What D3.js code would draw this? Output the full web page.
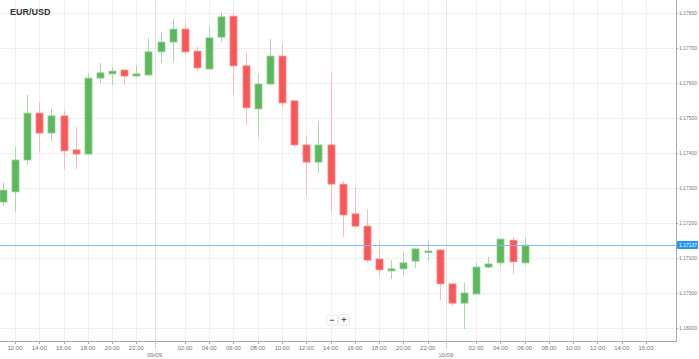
<!DOCTYPE html>
<html><head><meta charset="utf-8">
<script src="https://cdn.jsdelivr.net/npm/d3@7"></script>
<style>body{margin:0;background:#fff}svg{display:block}text{font-family:"Liberation Sans",Arial,sans-serif}</style>
</head><body><svg id="c" width="699" height="359"></svg>
<script>
const title = "EUR/USD";
// hours since 08/09 00:00
const hours = [11,12,13,14,15,16,17,18,19,20,21,22,23,24,25,26,27,28,29,30,31,32,33,34,35,36,37,38,39,40,41,42,43,44,45,46,47,48,49,50,51,52,53,54];
const open  = [1.17260,1.17289,1.17380,1.17514,1.17457,1.17506,1.17409,1.17397,1.17614,1.17626,1.17637,1.17620,1.17623,1.17689,1.17717,1.17754,1.17691,1.17640,1.17731,1.17791,1.17649,1.17526,1.17597,1.17677,1.17549,1.17423,1.17374,1.17423,1.17311,1.17226,1.17191,1.17097,1.17063,1.17069,1.17091,1.17117,1.17123,1.17026,1.16971,1.16997,1.17074,1.17086,1.17151,1.17086];
const high  = [1.17317,1.17417,1.17566,1.17546,1.17526,1.17520,1.17474,1.17629,1.17657,1.17646,1.17640,1.17651,1.17729,1.17746,1.17783,1.17771,1.17703,1.17760,1.17803,1.17800,1.17686,1.17626,1.17726,1.17714,1.17551,1.17451,1.17489,1.17629,1.17320,1.17303,1.17240,1.17149,1.17094,1.17117,1.17129,1.17149,1.17123,1.17026,1.17029,1.17086,1.17103,1.17154,1.17160,1.17157];
const low   = [1.17249,1.17231,1.17366,1.17400,1.17434,1.17354,1.17354,1.17395,1.17600,1.17594,1.17594,1.17617,1.17620,1.17657,1.17660,1.17683,1.17634,1.17638,1.17717,1.17566,1.17480,1.17446,1.17595,1.17529,1.17417,1.17277,1.17343,1.17229,1.17160,1.17189,1.17086,1.17046,1.17040,1.17049,1.17071,1.17091,1.16980,1.16963,1.16897,1.16997,1.17071,1.17077,1.17054,1.17080];
const close = [1.17294,1.17380,1.17514,1.17457,1.17506,1.17406,1.17397,1.17614,1.17629,1.17634,1.17620,1.17626,1.17689,1.17717,1.17754,1.17689,1.17643,1.17729,1.17789,1.17649,1.17529,1.17597,1.17677,1.17543,1.17423,1.17374,1.17423,1.17311,1.17223,1.17191,1.17094,1.17066,1.17069,1.17086,1.17126,1.17120,1.17026,1.16971,1.17000,1.17074,1.17083,1.17154,1.17089,1.17137];
const yTicks = [1.169,1.170,1.171,1.172,1.173,1.174,1.175,1.176,1.177,1.178];
const xTickHours = [12,14,16,18,20,22,26,28,30,32,34,36,38,40,42,44,46,50,52,54,56,58,60,62,64];
const xTickLabels = ["12:00","14:00","16:00","18:00","20:00","22:00","02:00","04:00","06:00","08:00","10:00","12:00","14:00","16:00","18:00","20:00","22:00","02:00","04:00","06:00","08:00","10:00","12:00","14:00","16:00"];
const dayHours = [23.5,47.5];
const dayLabels = ["09/09","10/09"];
const currentPrice = 1.17137;

const svg = d3.select("#c");
const W = 676, H = 341;
const x = d3.scaleLinear().domain([12,64]).range([15,646]);
const y = d3.scaleLinear().domain([1.169,1.178]).range([328,13]);

// grid
const g = svg.append("g");
g.selectAll(".hg").data(yTicks).join("line").attr("x1",0).attr("x2",W)
 .attr("y1",d=>Math.round(y(d))+0.5).attr("y2",d=>Math.round(y(d))+0.5).attr("stroke","#f0f0f0");
g.selectAll(".vg").data(xTickHours).join("line").attr("y1",0).attr("y2",H)
 .attr("x1",d=>Math.round(x(d))+0.5).attr("x2",d=>Math.round(x(d))+0.5).attr("stroke","#f0f0f0");
g.selectAll(".dg").data(dayHours).join("line").attr("y1",0).attr("y2",H)
 .attr("x1",d=>Math.round(x(d))+0.5).attr("x2",d=>Math.round(x(d))+0.5).attr("stroke","#e4e4e4");

// title
svg.append("text").attr("x",10).attr("y",15).text(title).attr("font-size",9).attr("font-weight","bold").attr("fill","#333");

// candles
const data = hours.map((h,i)=>({h,o:open[i],hi:high[i],l:low[i],c:close[i]}));
const cg = svg.append("g").attr("clip-path","url(#clip)");
svg.append("clipPath").attr("id","clip").append("rect").attr("x",0).attr("y",0).attr("width",W).attr("height",H);
const bw = 8;
cg.selectAll(".wick").data(data).join("line")
 .attr("x1",d=>Math.round(x(d.h))+0.5).attr("x2",d=>Math.round(x(d.h))+0.5)
 .attr("y1",d=>y(d.hi)).attr("y2",d=>y(d.l))
 .attr("stroke",d=>d.c>=d.o?"#a9dba9":"#ffb9b9").attr("stroke-width",1);
cg.selectAll(".body").data(data).join("rect")
 .attr("x",d=>Math.round(x(d.h))-bw/2+1).attr("width",bw-1)
 .attr("y",d=>y(Math.max(d.o,d.c)))
 .attr("height",d=>Math.max(1.5,Math.abs(y(d.o)-y(d.c))))
 .attr("fill",d=>d.c>=d.o?"#5cb85c":"#fa5858")
 .attr("stroke",d=>d.c>=d.o?"#8fd08f":"#ff8a8a").attr("stroke-width",0.8);

// current price line
svg.append("line").attr("x1",0).attr("x2",W).attr("y1",Math.round(y(currentPrice))+0.5).attr("y2",Math.round(y(currentPrice))+0.5)
 .attr("stroke","#7dbdf0").attr("stroke-width",1);

// axes lines
svg.append("line").attr("x1",W+0.5).attr("x2",W+0.5).attr("y1",0).attr("y2",H).attr("stroke","#aaa");
svg.append("line").attr("x1",0).attr("x2",W+1).attr("y1",H+0.5).attr("y2",H+0.5).attr("stroke","#aaa");

// y labels
const yl = svg.append("g");
yl.selectAll("line").data(yTicks).join("line").attr("x1",W).attr("x2",W+2)
 .attr("y1",d=>Math.round(y(d))+0.5).attr("y2",d=>Math.round(y(d))+0.5).attr("stroke","#aaa");
yl.selectAll("text").data(yTicks).join("text").attr("x",W+3).attr("y",d=>y(d)+2)
 .text(d=>d3.format(".5f")(d)).attr("font-size",5).attr("fill","#777");
// price tag
svg.append("rect").attr("x",W+1).attr("y",y(currentPrice)-4).attr("width",21).attr("height",8).attr("rx",1).attr("fill","#2196f3");
svg.append("text").attr("x",W+3).attr("y",y(currentPrice)+2).text(d3.format(".5f")(currentPrice)).attr("font-size",5).attr("fill","#fff");

// x labels
const xl = svg.append("g");
xl.selectAll("line").data(xTickHours).join("line").attr("y1",H).attr("y2",H+3)
 .attr("x1",d=>Math.round(x(d))+0.5).attr("x2",d=>Math.round(x(d))+0.5).attr("stroke","#aaa");
xl.selectAll("text").data(xTickHours).join("text").attr("x",d=>x(d)).attr("y",H+8.5).attr("text-anchor","middle")
 .text((d,i)=>xTickLabels[i]).attr("font-size",6).attr("fill","#777");
const dl = svg.append("g");
dl.selectAll("line").data(dayHours).join("line").attr("y1",H).attr("y2",H+8)
 .attr("x1",d=>Math.round(x(d))+0.5).attr("x2",d=>Math.round(x(d))+0.5).attr("stroke","#aaa").attr("stroke-dasharray","1,1");
dl.selectAll("text").data(dayHours).join("text").attr("x",d=>x(d)).attr("y",H+15.5).attr("text-anchor","middle")
 .text((d,i)=>dayLabels[i]).attr("font-size",6).attr("fill","#777");

// zoom buttons
const zb = svg.append("g");
[["−",332],["+",344]].forEach(([t,cx])=>{
  zb.append("rect").attr("x",cx-5.5).attr("y",315).attr("width",11).attr("height",10).attr("rx",1.5)
    .attr("fill","#fff").attr("stroke","#e8e8e8");
  zb.append("text").attr("x",cx).attr("y",323).attr("text-anchor","middle").text(t).attr("font-size",9).attr("font-weight","bold").attr("fill","#555");
});
</script></body></html>
